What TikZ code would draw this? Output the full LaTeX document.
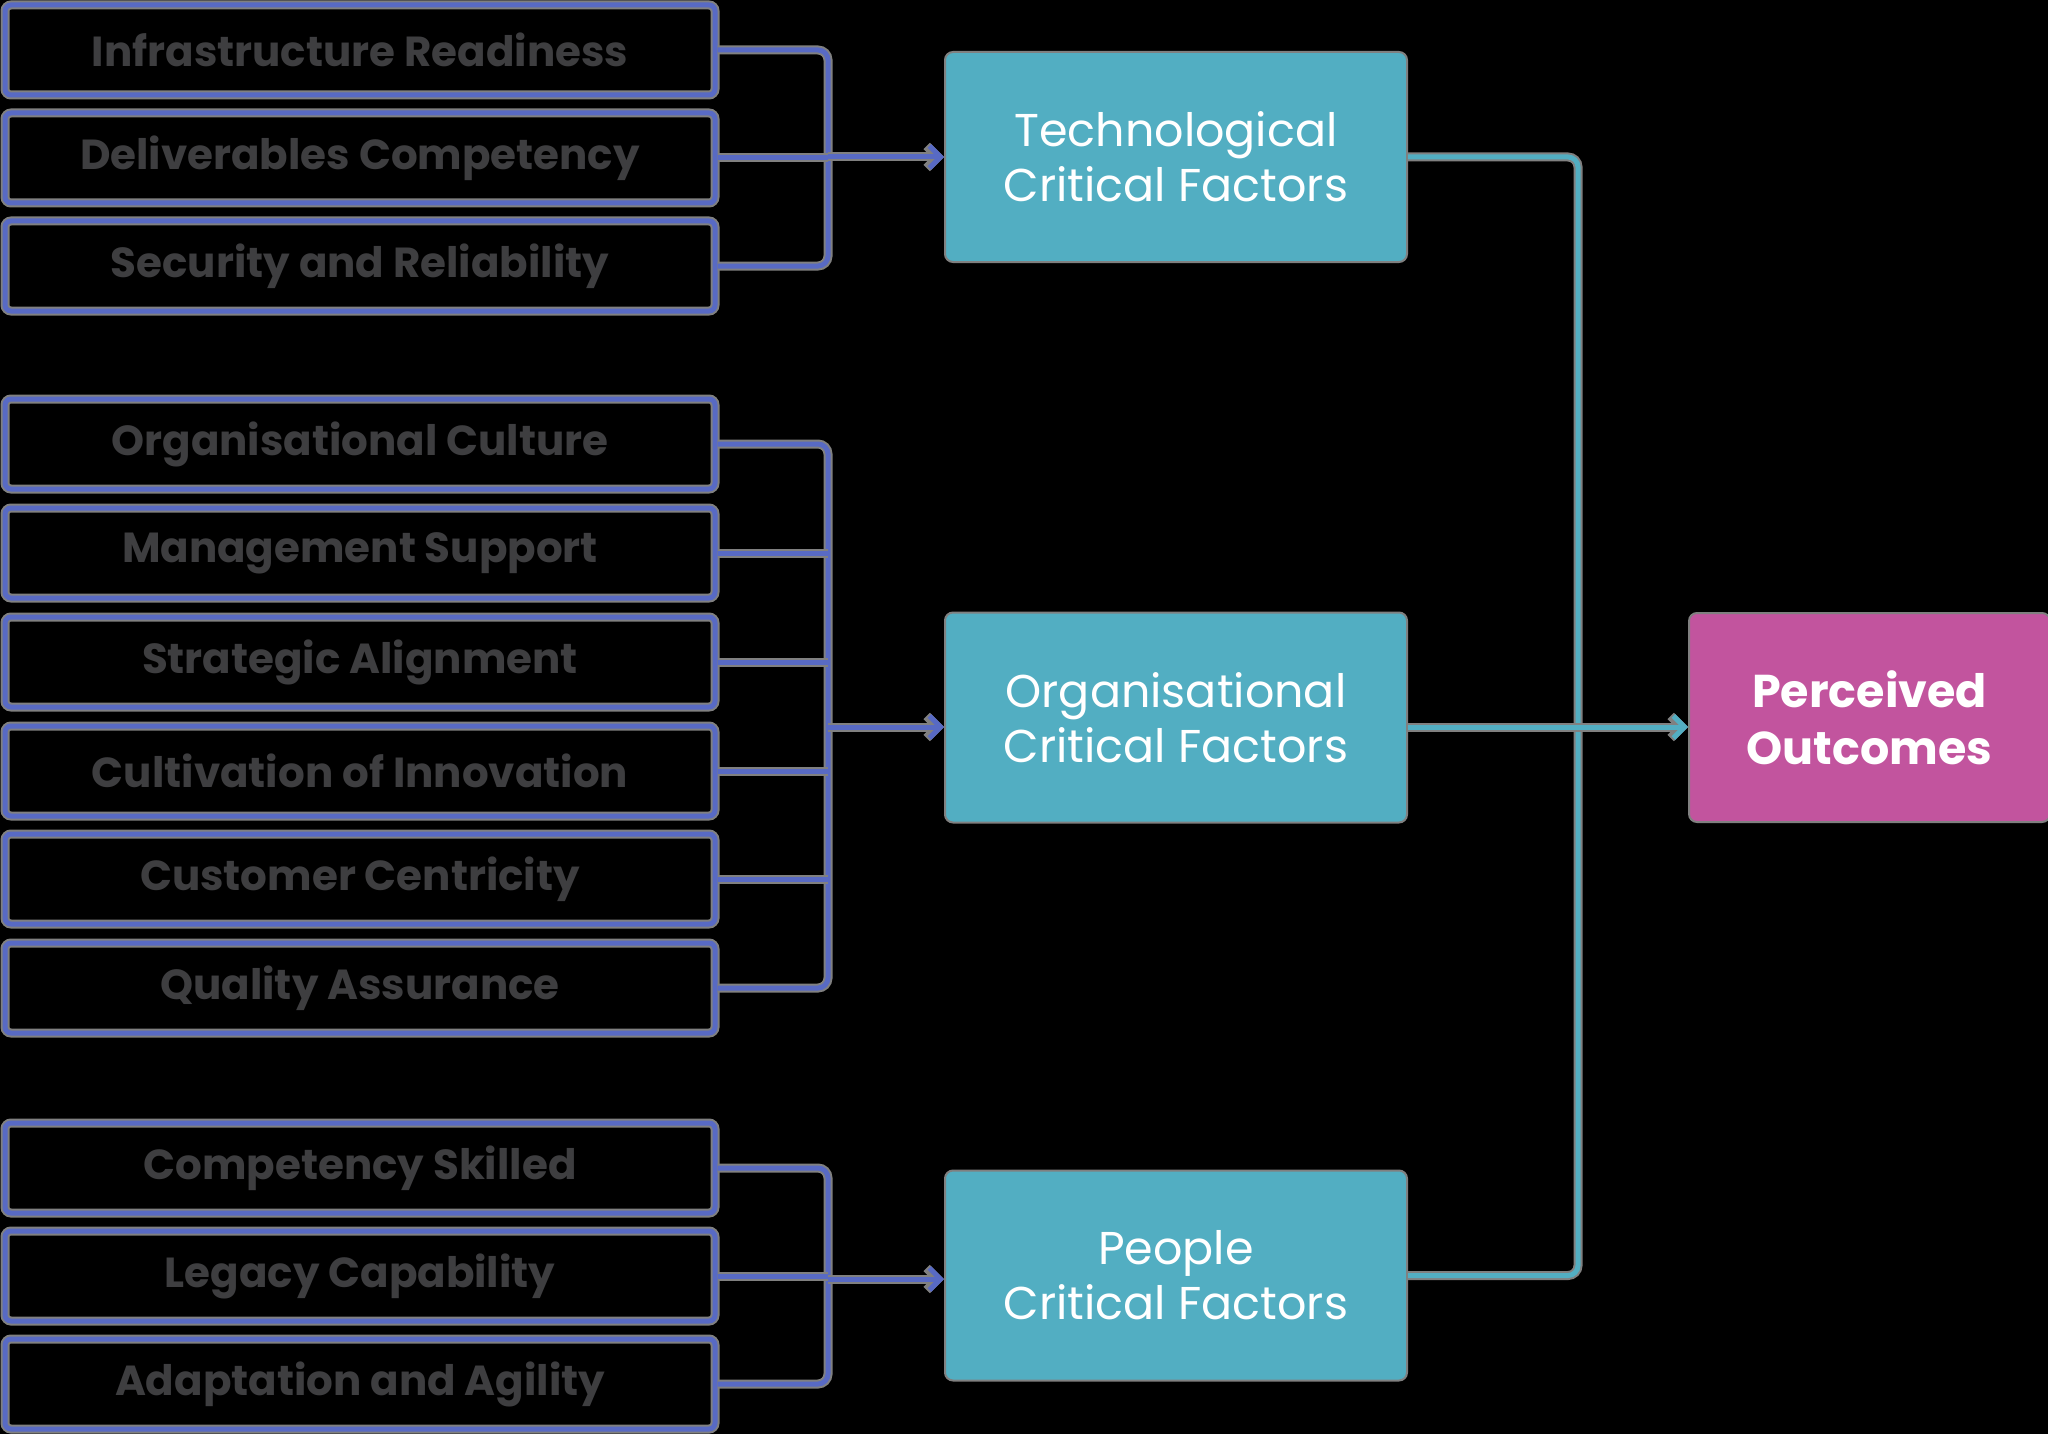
\documentclass[tikz,border=0pt]{standalone}
\usepackage{fontspec}
\setmainfont{Poppins}
\usetikzlibrary{arrows.meta}
\definecolor{blueC}{RGB}{88,106,196}
\definecolor{tealC}{RGB}{82,174,194}
\definecolor{magC}{RGB}{194,84,158}
\definecolor{txtgray}{RGB}{62,62,64}
\definecolor{haloC}{RGB}{128,128,128}
\tikzset{
  lbox/.style={draw=blueC, line width=5pt, rounded corners=6pt,
    preaction={draw=haloC, line width=9pt},
    minimum width=710pt, minimum height=90pt, inner sep=0pt,
    text=txtgray, font=\bfseries\fontsize{42}{48}\selectfont},
  tbox/.style={fill=tealC, draw=haloC, line width=2pt, rounded corners=8pt,
    minimum width=462pt, minimum height=210pt, inner sep=0pt, align=center,
    text=white, font=\fontsize{46}{55}\selectfont},
  obox/.style={fill=magC, draw=haloC, line width=2pt, rounded corners=8pt,
    minimum width=361pt, minimum height=209pt, inner sep=0pt, align=center,
    text=white, font=\bfseries\fontsize{46}{57}\selectfont},
  bline/.style={draw=blueC, line width=5pt, preaction={draw=haloC, line width=9pt}},
  tline/.style={draw=tealC, line width=5pt, preaction={draw=haloC, line width=9pt}},
  tipb/.style={-{Straight Barb[length=11pt,width=22pt]}},
}
\begin{document}
\begin{tikzpicture}[x=1pt,y=-1pt]
\useasboundingbox (0,0) rectangle (2048,1434);
\fill[black] (0,0) rectangle (2048,1434);
% left factor boxes
\node[lbox] (l1) at (360,50) {Infrastructure Readiness};
\node[lbox] (l2) at (360,158) {Deliverables Competency};
\node[lbox] (l3) at (360,266) {Security and Reliability};
\node[lbox] (l4) at (360,444) {Organisational Culture};
\node[lbox] (l5) at (360,553) {Management Support};
\node[lbox] (l6) at (360,662) {Strategic Alignment};
\node[lbox] (l7) at (360,771) {Cultivation of Innovation};
\node[lbox] (l8) at (360,879) {Customer Centricity};
\node[lbox] (l9) at (360,988) {Quality Assurance};
\node[lbox] (l10) at (360,1168) {Competency Skilled};
\node[lbox] (l11) at (360,1276) {Legacy Capability};
\node[lbox] (l12) at (360,1384) {Adaptation and Agility};
% middle boxes
\node[tbox] (tech) at (1176,157) {Technological\\Critical Factors};
\node[tbox] (org) at (1176,717.5) {Organisational\\Critical Factors};
\node[tbox] (ppl) at (1176,1275.5) {People\\Critical Factors};
\node[obox] (out) at (1869.5,717.5) {Perceived\\Outcomes};
% spines
\coordinate (s1) at (828,157);
\coordinate (s2) at (828,727);
\coordinate (s3) at (828,1279);
\coordinate (r) at (1578,727);
% group 1
\draw[bline, rounded corners=10pt] (l1.east) -| (s1) |- (l3.east);
\draw[bline] (l2.east) -- (l2.east -| s1);
\draw[bline, tipb] (s1) -- (tech.west);
% group 2
\draw[bline, rounded corners=10pt] (l4.east) -| (s2) |- (l9.east);
\foreach \n in {l5,l6,l7,l8} \draw[bline] (\n.east) -- (\n.east -| s2);
\draw[bline, tipb] (s2) -- (s2 -| org.west);
% group 3
\draw[bline, rounded corners=10pt] (l10.east) -| (s3) |- (l12.east);
\draw[bline] (l11.east) -- (l11.east -| s3);
\draw[bline, tipb] (s3) -- (s3 -| ppl.west);
% right side
\draw[tline, rounded corners=10pt] (tech.east) -| (r) |- (ppl.east);
\draw[tline, tipb] (org.east |- r) -- (r -| out.west);
\end{tikzpicture}
\end{document}
